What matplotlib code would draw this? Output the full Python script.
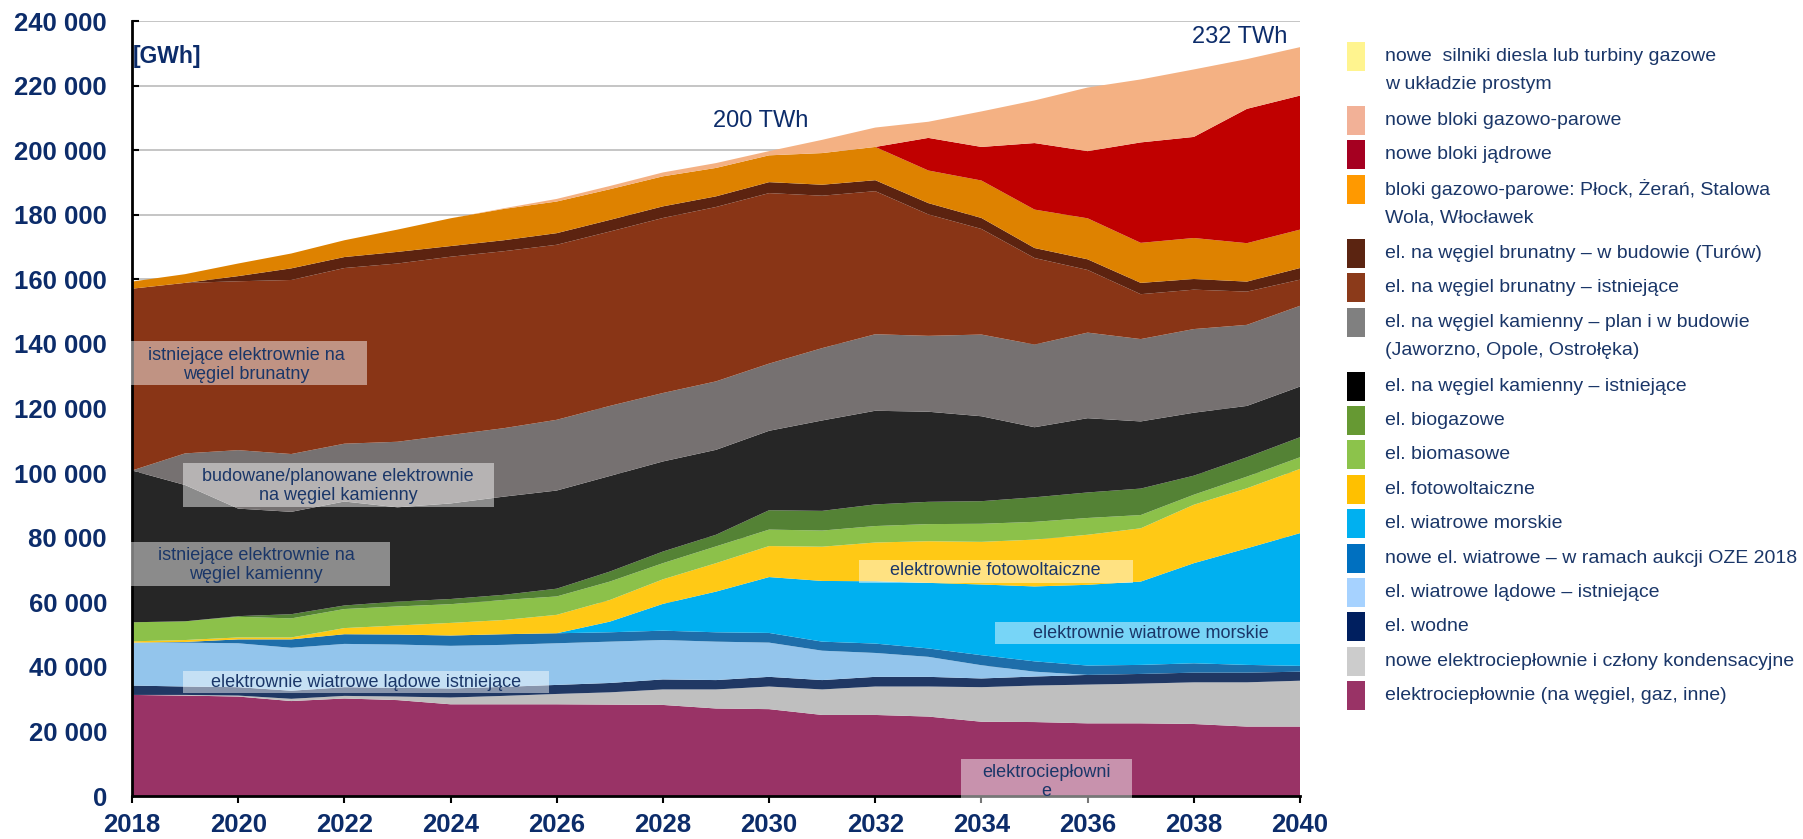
import numpy as np
import matplotlib.pyplot as plt
from matplotlib.patches import Rectangle

W, H = 1803, 839
NAVY = '#0C2C6A'
TXT = '#1A3668'

years = np.arange(2018, 2041)

# produkcja energii elektrycznej [GWh], od dołu stosu
ec_existing = [31300, 31100, 30800, 29400, 30200, 29700, 28400, 28400, 28400, 28300, 28200, 27100,
               26900, 25100, 25100, 24600, 23000, 22900, 22500, 22500, 22300, 21500, 21500]
ec_new = [0, 200, 300, 700, 800, 1100, 2100, 2600, 3200, 3800, 4800, 5900,
          7000, 7900, 8800, 9300, 10700, 11300, 12000, 12300, 12900, 13700, 14200]
hydro = [2900, 2600, 2600, 2500, 2700, 2700, 2800, 2800, 2800, 2900, 3100, 2900,
         3000, 2900, 3000, 3000, 2700, 2800, 3000, 3000, 3000, 3000, 2800]
wind_onshore = [13300, 13600, 13600, 13300, 13400, 13400, 13200, 13000, 12900, 12800, 12200, 11900,
                10600, 9100, 7400, 6200, 4100, 1500, 0, 0, 0, 0, 0]
wind_auction = [0, 200, 1200, 2600, 3000, 3100, 3200, 3300, 3100, 2900, 2900, 2900,
                3000, 2800, 2900, 2600, 3100, 3200, 2900, 2800, 2900, 2400, 1800]
wind_offshore = [0, 0, 0, 0, 0, 0, 0, 0, 0, 3300, 8300, 12600,
                 17300, 18800, 19300, 20300, 21900, 23200, 25000, 25800, 31000, 36100, 41100]
pv = [400, 600, 600, 600, 1900, 2800, 3900, 4400, 5700, 6700, 7600, 8800,
      9600, 10600, 12000, 12900, 13200, 14500, 15500, 16500, 18100, 18600, 19900]
biomass = [5900, 5800, 6400, 5900, 5900, 5900, 5800, 6200, 5700, 5700, 5000, 5200,
           5100, 5000, 5100, 5300, 5600, 5500, 5200, 4100, 3100, 3600, 3600]
biogas = [0, 0, 200, 1300, 1100, 1500, 1600, 1600, 2400, 3100, 3600, 3600,
          6000, 6100, 6700, 6900, 7000, 7600, 7900, 8200, 5900, 6000, 6200]
hard_coal = [47000, 42200, 33300, 31700, 32200, 29200, 29600, 30400, 30400, 29600, 27900, 26300,
             24600, 28000, 29000, 27900, 26300, 21700, 23000, 20800, 19500, 15900, 15700]
hard_coal_new = [0, 9800, 18100, 17900, 17900, 20300, 21200, 21200, 21900, 21700, 21200, 21200,
                 20800, 22400, 23700, 23500, 25300, 25600, 26500, 25500, 25900, 25100, 25000]
lignite = [56300, 52800, 52300, 53900, 54400, 55200, 55200, 54800, 54200, 54000, 54200, 54000,
           52800, 47200, 44300, 37600, 32700, 26800, 19400, 13900, 12200, 10300, 8100]
lignite_turow = [0, 0, 1600, 3600, 3400, 3600, 3300, 3400, 3600, 3600, 3600, 3300,
                 3400, 3400, 3400, 3500, 3400, 3100, 3300, 3500, 3300, 3100, 3600]
ccgt_existing = [2200, 2700, 3900, 4600, 5200, 6900, 8600, 9700, 9800, 9500, 9300, 8800,
                 8300, 9800, 10300, 10100, 11600, 11900, 12700, 12400, 12700, 11900, 11900]
nuclear = [0, 0, 0, 0, 0, 0, 0, 0, 0, 0, 0, 0,
           0, 0, 0, 10100, 10400, 20600, 20800, 31100, 31300, 41600, 41500]
ccgt_new = [0, 0, 0, 0, 0, 0, 0, 200, 800, 1000, 1200, 1500,
            1300, 4100, 6000, 5000, 11000, 13200, 19700, 19500, 20900, 15400, 15000]
diesel = [0] * 23

series = [ec_existing, ec_new, hydro, wind_onshore, wind_auction, wind_offshore, pv, biomass,
          biogas, hard_coal, hard_coal_new, lignite, lignite_turow, ccgt_existing, nuclear,
          ccgt_new, diesel]
area_colors = ['#993366', '#BFBFBF', '#203864', '#93C5EC', '#1E6EAA', '#00B0F0', '#FFC915',
               '#8CC14A', '#548235', '#262626', '#767171', '#893516', '#5C2310', '#DE8200',
               '#C00000', '#F4B183', '#FFF385']

# legenda (od góry)
legend_labels = [
    'nowe  silniki diesla lub turbiny gazowe\nw układzie prostym',
    'nowe bloki gazowo-parowe',
    'nowe bloki jądrowe',
    'bloki gazowo-parowe: Płock, Żerań, Stalowa\nWola, Włocławek',
    'el. na węgiel brunatny – w budowie (Turów)',
    'el. na węgiel brunatny – istniejące',
    'el. na węgiel kamienny – plan i w budowie\n(Jaworzno, Opole, Ostrołęka)',
    'el. na węgiel kamienny – istniejące',
    'el. biogazowe',
    'el. biomasowe',
    'el. fotowoltaiczne',
    'el. wiatrowe morskie',
    'nowe el. wiatrowe – w ramach aukcji OZE 2018',
    'el. wiatrowe lądowe – istniejące',
    'el. wodne',
    'nowe elektrociepłownie i człony kondensacyjne',
    'elektrociepłownie (na węgiel, gaz, inne)',
]
legend_colors = ['#FFF48F', '#F2B197', '#A50021', '#FF9900', '#5B2411', '#8B3A1A', '#808080',
                 '#000000', '#669933', '#8CC34B', '#FFC000', '#00B0F0', '#0070C0', '#A6D2FF',
                 '#001F5F', '#CCCCCC', '#993366']

y_ticks = list(range(0, 240001, 20000))
y_tick_labels = [f'{v:,}'.replace(',', ' ') for v in y_ticks]
x_ticks = list(range(2018, 2041, 2))

plt.rcParams['font.family'] = ['Liberation Sans', 'DejaVu Sans']

fig = plt.figure(figsize=(W / 100, H / 100), dpi=100)
ax = fig.add_axes([132 / W, (H - 796) / H, 1168 / W, 775 / H])

ax.stackplot(years, *series, colors=area_colors, linewidth=0)

ax.set_xlim(2018, 2040)
ax.set_ylim(0, 240000)
ax.set_yticks(y_ticks)
ax.set_yticklabels(y_tick_labels)
ax.set_xticks(x_ticks)
ax.set_xticklabels([str(x) for x in x_ticks])
for lab in ax.get_xticklabels() + ax.get_yticklabels():
    lab.set_fontweight('bold')
    lab.set_fontsize(18.5)
    lab.set_color(NAVY)
ax.tick_params(axis='y', direction='in', length=5, width=1.5, pad=18)
ax.tick_params(axis='x', direction='out', length=5, width=1.5, pad=7)
ax.yaxis.grid(True, color='#C0C0C0', linewidth=1.3)
ax.set_axisbelow(True)
for side in ['top', 'right']:
    ax.spines[side].set_visible(False)
for side in ['left', 'bottom']:
    ax.spines[side].set_linewidth(2)
    ax.spines[side].set_color('black')
    ax.spines[side].set_zorder(5)

# opisy obszarów (półprzezroczyste prostokąty)
notes = [
    ((2017.98, 127300, 4.45, 13600), (2020.15, 133600), 'istniejące elektrownie na\nwęgiel brunatny'),
    ((2018.96, 89500, 5.86, 13600), (2021.88, 96000), 'budowane/planowane elektrownie\nna węgiel kamienny'),
    ((2017.81, 65000, 5.05, 13600), (2020.34, 71500), 'istniejące elektrownie na\nwęgiel kamienny'),
    ((2018.96, 31900, 6.89, 6800), (2022.41, 35000), 'elektrownie wiatrowe lądowe istniejące'),
    ((2031.69, 66000, 5.16, 7100), (2034.27, 69700), 'elektrownie fotowoltaiczne'),
    ((2034.26, 47100, 5.85, 6800), (2037.19, 50200), 'elektrownie wiatrowe morskie'),
    ((2033.62, -2200, 3.22, 13600), (2035.22, 4300), 'elektrociepłowni\ne'),
]
for (x0, y0, w, h), (tx, ty), txt in notes:
    ax.add_patch(Rectangle((x0, y0), w, h, facecolor='white', alpha=0.47,
                           edgecolor='none', clip_on=False, zorder=6))
    ax.text(tx, ty, txt, ha='center', va='center', fontsize=13, color=TXT,
            linespacing=1.15, zorder=7, clip_on=False)

ax.text(2018.02, 229000, '[GWh]', fontsize=16.5, fontweight='bold', color=NAVY, va='center')
ax.text(2028.94, 209000, '200 TWh', fontsize=17, color=NAVY, ha='left', va='center')
ax.text(2039.76, 235200, '232 TWh', fontsize=17, color=NAVY, ha='right', va='center')

# legenda rysowana ręcznie
y = 42
for label, col in zip(legend_labels, legend_colors):
    lines = label.split('\n')
    fig.add_artist(Rectangle((1347 / W, 1 - (y + 29) / H), 18 / W, 29 / H,
                             facecolor=col, edgecolor='none', transform=fig.transFigure))
    for i, line in enumerate(lines):
        fig.text(1385 / W, 1 - (y + 14.5 + i * 28.3) / H, line, fontsize=14,
                 color=TXT, va='center', ha='left')
    y += 34.4 + 29.6 * (len(lines) - 1)

fig.savefig('out.png', dpi=100)
